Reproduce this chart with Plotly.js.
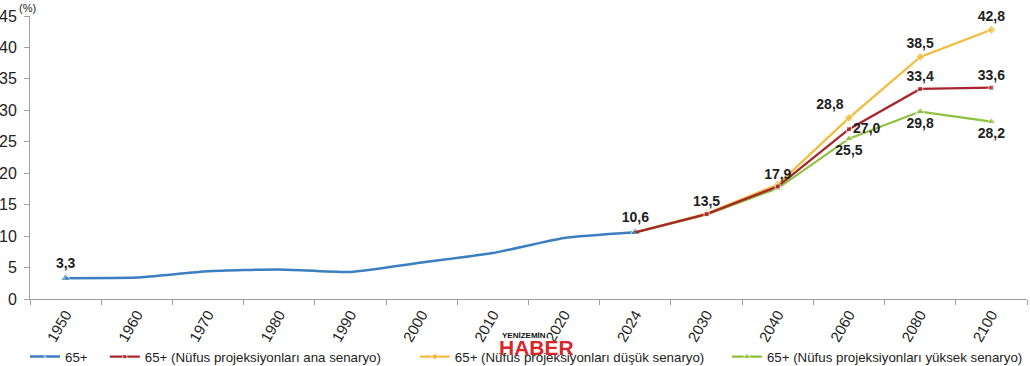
<!DOCTYPE html>
<html>
<head>
<meta charset="utf-8">
<script src="https://cdn.plot.ly/plotly-3.0.1.min.js"></script>
<style>
  html, body { margin: 0; padding: 0; background: #ffffff; }
  #chart { width: 1030px; height: 366px; }
</style>
</head>
<body>
<div id="chart"></div>
<script>
// ---- Data ----
const years = ['1950','1960','1970','1980','1990','2000','2010','2020','2024','2030','2040','2060','2080','2100'];
const histYears = ['1950','1960','1970','1980','1990','2000','2010','2020','2024'];
const histValues = [3.3, 3.4, 4.4, 4.7, 4.3, 5.8, 7.3, 9.7, 10.6];
const projYears = ['2024','2030','2040','2060','2080','2100'];
const mainValues = [10.6, 13.5, 17.9, 27.0, 33.4, 33.6];
const lowValues  = [10.6, 13.6, 18.2, 28.8, 38.5, 42.8];
const highValues = [10.6, 13.4, 17.6, 25.5, 29.8, 28.2];
const seriesNames = [
  '65+',
  '65+ (Nüfus projeksiyonları ana senaryo)',
  '65+ (Nüfus projeksiyonları düşük senaryo)',
  '65+ (Nüfus projeksiyonları yüksek senaryo)'
];
const yTicks = [0, 5, 10, 15, 20, 25, 30, 35, 40, 45];

// ---- helpers ----
const fmt = v => v.toFixed(1).replace('.', ',');
function labels(values, shownYears, xs) {
  return values.map((v, i) => shownYears.includes(xs[i]) ? fmt(v) : '');
}

const FONT = 'Liberation Sans, Arial, sans-serif';
const NARROW = 'Liberation Sans Narrow, Arial Narrow, Liberation Sans, sans-serif';
const LBL = { family: FONT, size: 14, color: '#222222', weight: 'bold' };

const blue = '#3b7fc1', red = '#a8262b', yellow = '#f2bb3c', green = '#8dc03f';

const traces = [
  {
    x: histYears, y: histValues, name: seriesNames[0], type: 'scatter',
    mode: 'lines+markers+text',
    line: { color: blue, width: 2.5, shape: 'spline', smoothing: 0.5 },
    marker: { symbol: 'triangle-up', color: blue, size: histYears.map((y, i) => (i === 0 || i === histYears.length - 1) ? 9 : 0) },
    text: labels(histValues, ['1950', '2024'], histYears),
    textposition: 'top center', textfont: LBL, cliponaxis: false,
    legend: 'legend', hoverinfo: 'x+y'
  },
  {
    x: projYears, y: lowValues, name: seriesNames[2], type: 'scatter',
    mode: 'lines+markers+text',
    line: { color: yellow, width: 2.2 },
    marker: { symbol: 'diamond', color: yellow, size: projYears.map((y, i) => i === 0 ? 0 : 7) },
    text: labels(lowValues, ['2060', '2080', '2100'], projYears),
    textposition: ['top center','top center','top center','top left','top center','top center'],
    textfont: LBL, cliponaxis: false,
    legend: 'legend3', hoverinfo: 'x+y'
  },
  {
    x: projYears, y: highValues, name: seriesNames[3], type: 'scatter',
    mode: 'lines+markers+text',
    line: { color: green, width: 2.2 },
    marker: { symbol: 'triangle-up', color: green, size: projYears.map((y, i) => i === 0 ? 0 : 8) },
    text: labels(highValues, ['2060', '2080', '2100'], projYears),
    textposition: 'bottom center', textfont: LBL, cliponaxis: false,
    legend: 'legend4', hoverinfo: 'x+y'
  },
  {
    x: projYears, y: mainValues, name: seriesNames[1], type: 'scatter',
    mode: 'lines+markers+text',
    line: { color: red, width: 2.2 },
    marker: { symbol: 'square', color: red, size: projYears.map((y, i) => i === 0 ? 0 : 5) },
    text: labels(mainValues, ['2030', '2040', '2060', '2080', '2100'], projYears),
    textposition: ['top center','top center','top center','middle right','top center','top center'],
    textfont: LBL, cliponaxis: false,
    legend: 'legend2', hoverinfo: 'x+y'
  }
];

const legendBase = {
  orientation: 'h', yanchor: 'top', xanchor: 'left', y: -0.15,
  bgcolor: 'rgba(0,0,0,0)', font: { family: FONT, size: 13.3, color: '#222222' },
  itemwidth: 30, tracegroupgap: 0
};

const layout = {
  width: 1030, height: 366,
  margin: { l: 30, r: 3, t: 16, b: 67, autoexpand: false },
  paper_bgcolor: '#ffffff', plot_bgcolor: '#ffffff',
  font: { family: FONT, size: 14, color: '#222222' },
  showlegend: true,
  xaxis: {
    type: 'category', categoryorder: 'array', categoryarray: years,
    range: [-0.5, years.length - 0.5],
    showline: true, linecolor: '#a0a0a0', linewidth: 1,
    ticks: 'outside', tickson: 'boundaries', ticklen: 5, tickcolor: '#a0a0a0',
    tickangle: -60, tickfont: { family: NARROW, size: 15, color: '#222222' },
    showgrid: false, zeroline: false, automargin: false
  },
  yaxis: {
    range: [0, 45], tickvals: yTicks, ticktext: yTicks.map(String),
    showline: true, linecolor: '#a0a0a0', linewidth: 1,
    ticks: 'outside', ticklen: 5, tickcolor: '#a0a0a0', ticklabelstandoff: 4,
    tickfont: { family: NARROW, size: 16, color: '#222222' },
    showgrid: false, zeroline: false, automargin: false
  },
  legend:  Object.assign({}, legendBase, { x: -0.005 }),
  legend2: Object.assign({}, legendBase, { x: 0.075 }),
  legend3: Object.assign({}, legendBase, { x: 0.386 }),
  legend4: Object.assign({}, legendBase, { x: 0.699 }),
  annotations: [
    { text: '(%)', xref: 'paper', yref: 'paper', x: -0.003, y: 1.03, xanchor: 'center', yanchor: 'middle',
      showarrow: false, font: { family: FONT, size: 11, color: '#222222' } },
    { text: 'YENİZEMİN', xref: 'paper', yref: 'paper', x: 0.471, y: -0.13, xanchor: 'left', yanchor: 'middle',
      showarrow: false, font: { family: NARROW, size: 8, color: '#111111', weight: 'bold' } },
    { text: 'HABER', xref: 'paper', yref: 'paper', x: 0.468, y: -0.17, xanchor: 'left', yanchor: 'middle',
      showarrow: false, font: { family: NARROW, size: 21, color: '#d9262b', weight: 'bold' } }
  ]
};

Plotly.newPlot('chart', traces, layout, { displayModeBar: false, responsive: false });
</script>
</body>
</html>
